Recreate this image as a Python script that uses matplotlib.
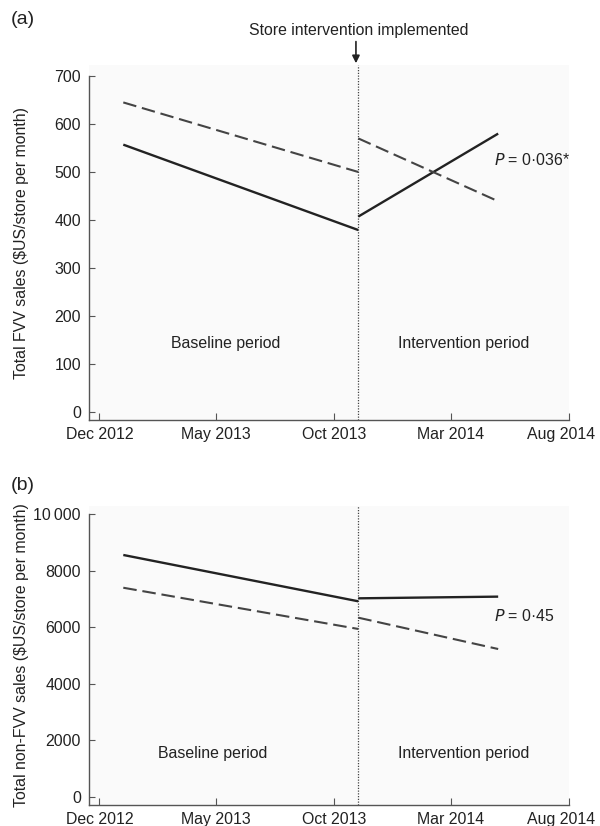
import datetime as dt
import matplotlib
matplotlib.use("Agg")
import matplotlib.pyplot as plt
import matplotlib.transforms as mtransforms

plt.rcParams['font.family'] = ['Liberation Sans', 'DejaVu Sans']

D = dt.datetime

# time points of the fitted segments
pre_dates = [D(2013, 1, 1), D(2013, 11, 1)]
post_dates = [D(2013, 11, 1), D(2014, 5, 1)]
intervention_date = D(2013, 11, 1)

# (a) FVV sales, $US/store per month
fvv_int_pre = [557, 379]
fvv_int_post = [407, 580]
fvv_ctl_pre = [645, 500]
fvv_ctl_post = [570, 439]

# (b) non-FVV sales, $US/store per month
nonfvv_int_pre = [8560, 6920]
nonfvv_int_post = [7025, 7085]
nonfvv_ctl_pre = [7400, 5940]
nonfvv_ctl_post = [6340, 5230]

tick_dates = [D(2012, 12, 1), D(2013, 5, 1), D(2013, 10, 1), D(2014, 3, 1), D(2014, 8, 1)]
tick_labels = ["Dec 2012", "May 2013", "Oct 2013", "Mar 2014", "Aug 2014"]

fvv_ticks = [0, 100, 200, 300, 400, 500, 600, 700]
fvv_ticklabels = [str(v) for v in fvv_ticks]
nonfvv_ticks = [0, 2000, 4000, 6000, 8000, 10000]
nonfvv_ticklabels = ["0", "2000", "4000", "6000", "8000", "10\u2009000"]

FS = 11.4
TXT = "#222222"

fig = plt.figure(figsize=(6, 8.26), dpi=100)
ax1 = fig.add_axes([0.1488, 0.4915, 0.80, 0.4298])
ax2 = fig.add_axes([0.1488, 0.0254, 0.80, 0.3620])


def style(ax, ylim, top, ticks, ticklabels, ylabel):
    ax.set_facecolor("#fafafa")
    ax.set_xlim(D(2012, 11, 18), D(2014, 8, 1))
    ax.set_ylim(*ylim)
    for s in ["top", "right"]:
        ax.spines[s].set_visible(False)
    for s in ["left", "bottom"]:
        ax.spines[s].set_color("#555555")
        ax.spines[s].set_linewidth(1.0)
    ax.spines["left"].set_bounds(ylim[0], top)
    ax.set_xticks(tick_dates)
    ax.set_xticklabels(tick_labels)
    ax.set_yticks(ticks)
    ax.set_yticklabels(ticklabels)
    ax.tick_params(axis="y", direction="in", length=4, width=0.8, color="#555555",
                   labelsize=FS, labelcolor=TXT, pad=6)
    ax.tick_params(axis="x", direction="in", length=5, width=0.8, color="#555555",
                   labelsize=FS, labelcolor=TXT, pad=5)
    # last date label sits a little left of its tick, as in the original
    last = ax.get_xticklabels()[-1]
    last.set_transform(last.get_transform() +
                       mtransforms.ScaledTranslation(-8 / 100, 0, fig.dpi_scale_trans))
    ax.set_ylabel(ylabel, fontsize=FS, color=TXT)
    ax.yaxis.set_label_coords(-0.125, 0.5)
    ax.axvline(intervention_date, color="#444444", lw=0.9, ls=(0, (1, 1.2)), zorder=1)


style(ax1, (-17, 723), 700, fvv_ticks, fvv_ticklabels,
      "Total FVV sales ($US/store per month)")
style(ax2, (-294, 10294), 10000, nonfvv_ticks, nonfvv_ticklabels,
      "Total non-FVV sales ($US/store per month)")

solid = dict(color="#222222", lw=1.7, solid_capstyle="butt", zorder=3)
dashed = dict(color="#444444", lw=1.5, dashes=(6.5, 2.8), zorder=3)

ax1.plot(pre_dates, fvv_int_pre, **solid)
ax1.plot(post_dates, fvv_int_post, **solid)
ax1.plot(pre_dates, fvv_ctl_pre, **dashed)
ax1.plot(post_dates, fvv_ctl_post, **dashed)

ax2.plot(pre_dates, nonfvv_int_pre, **solid)
ax2.plot(post_dates, nonfvv_int_post, **solid)
ax2.plot(pre_dates, nonfvv_ctl_pre, **dashed)
ax2.plot(post_dates, nonfvv_ctl_post, **dashed)

# period labels and P values
ax1.text(D(2013, 5, 14), 143, "Baseline period", ha="center", va="center", fontsize=FS, color=TXT)
ax1.text(D(2014, 3, 18), 143, "Intervention period", ha="center", va="center", fontsize=FS, color=TXT)
ax1.text(D(2014, 4, 26), 525, r"$\it{P}$ = 0·036*", ha="left", va="center", fontsize=FS, color=TXT)

ax2.text(D(2013, 4, 27), 1536, "Baseline period", ha="center", va="center", fontsize=FS, color=TXT)
ax2.text(D(2014, 3, 18), 1536, "Intervention period", ha="center", va="center", fontsize=FS, color=TXT)
ax2.text(D(2014, 4, 26), 6400, r"$\it{P}$ = 0·45", ha="left", va="center", fontsize=FS, color=TXT)

# intervention annotation
ax1.text(intervention_date, 1.0986, "Store intervention implemented",
         transform=ax1.get_xaxis_transform(), ha="center", va="center",
         fontsize=FS, color=TXT)
ax1.annotate("", xy=(intervention_date - dt.timedelta(days=3), 1.005),
             xycoords=("data", "axes fraction"),
             xytext=(intervention_date - dt.timedelta(days=3), 1.066),
             textcoords=("data", "axes fraction"),
             arrowprops=dict(arrowstyle="-|>", color="#222222", lw=1.2,
                             mutation_scale=11, shrinkA=0, shrinkB=0))

fig.text(0.018, 0.9758, "(a)", fontsize=14, color=TXT, va="center", ha="left")
fig.text(0.018, 0.4128, "(b)", fontsize=14, color=TXT, va="center", ha="left")

fig.savefig("out.png", dpi=100)
